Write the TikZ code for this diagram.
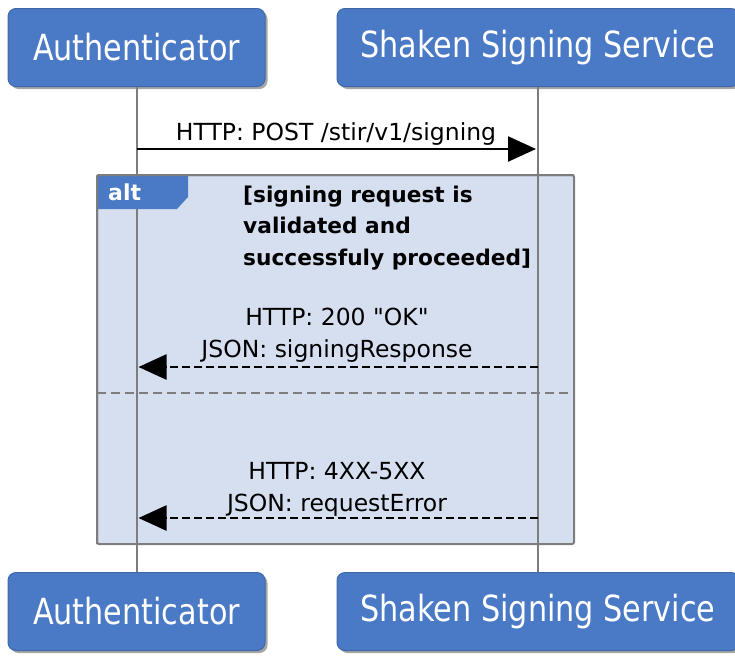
\documentclass[tikz,border=0pt]{standalone}
\usepackage{fontspec}
\setmainfont{DejaVu Sans}[Ligatures=TeXOff]
\newfontfamily\headfont[FakeStretch=0.84]{DejaVu Sans}
\usetikzlibrary{arrows.meta,shadows}
\definecolor{partblue}{RGB}{74,122,198}
\definecolor{altfill}{RGB}{214,223,240}
\definecolor{linegray}{RGB}{125,125,125}
\newcommand{\msgfont}{\fontsize{23.5}{32}\selectfont}
\newcommand{\condfont}{\bfseries\fontsize{21.7}{31.5}\selectfont}

\begin{document}
\begin{tikzpicture}[x=1pt,y=-1pt,
    participant/.style={fill=partblue,draw=partblue!85!black,line width=1pt,
      rounded corners=8pt,text=white,inner sep=0pt,minimum height=78pt,
      font=\headfont\fontsize{36}{40}\selectfont,
      drop shadow={shadow xshift=2.5pt,shadow yshift=-2.5pt,fill=black,opacity=.35}},
    lifeline/.style={draw=linegray,line width=2pt},
    msg/.style={line width=2.5pt,shorten >=2pt,-{Triangle[length=28pt,width=25pt]}},
    reply/.style={msg,dash pattern=on 8pt off 4pt},
    msglabel/.style={font=\msgfont,align=center,inner sep=0pt,anchor=base}]
  \useasboundingbox (0,0) rectangle (735,656);

  % participants
  \node[participant,minimum width=257pt] (auth-top) at (136.5,47.5) {Authenticator};
  \node[participant,minimum width=402pt] (sss-top) at (538,47.5) {Shaken Signing Service};
  \node[participant,minimum width=257pt] (auth-bot) at (136.5,611.5) {Authenticator};
  \node[participant,minimum width=402pt] (sss-bot) at (538,611.5) {Shaken Signing Service};

  % alt frame
  \filldraw[fill=altfill,draw=linegray,line width=2pt,rounded corners=2pt] (97,175) rectangle (574,544);
  \draw[lifeline] (auth-top.south) -- (auth-bot.north);
  \draw[lifeline] (sss-top.south) -- (sss-bot.north);
  \fill[partblue] (97,175) -- (188,175) -- (188,197) -- (177,209) -- (97,209) -- cycle;
  \draw[draw=linegray,line width=2pt,rounded corners=2pt] (97,544) -- (97,175) -- (574,175);
  \draw (108,200) node[anchor=base west,inner sep=0pt,text=white,font=\bfseries\fontsize{22}{26}\selectfont] (alt) {alt};
  % base anchor sits on the last line
  \draw (243,265) node[anchor=base west,inner sep=0pt,align=left,font=\condfont] (cond)
    {[signing request is\\validated and\\successfuly proceeded]};
  \draw[draw=linegray,line width=2.5pt,dash pattern=on 9pt off 5pt] (97,393) -- (574,393);

  % messages
  \coordinate (post-a) at (auth-top.south |- 0,149);
  \coordinate (post-s) at (sss-top.south |- 0,149);
  \coordinate (ok-a) at (auth-top.south |- 0,367);
  \coordinate (ok-s) at (sss-top.south |- 0,367);
  \coordinate (err-a) at (auth-top.south |- 0,518);
  \coordinate (err-s) at (sss-top.south |- 0,518);
  \draw[msg] (post-a) -- (post-s);
  \draw[reply] (ok-s) -- (ok-a);
  \draw[reply] (err-s) -- (err-a);
  \node[msglabel] (post-lbl) at (336,140) {HTTP: POST /stir/v1/signing};
  \node[msglabel] (ok-lbl) at (337,357) {HTTP: 200 "OK"\\JSON: signingResponse};
  \node[msglabel] (err-lbl) at (337,511) {HTTP: 4XX-5XX\\JSON: requestError};
\end{tikzpicture}
\end{document}
